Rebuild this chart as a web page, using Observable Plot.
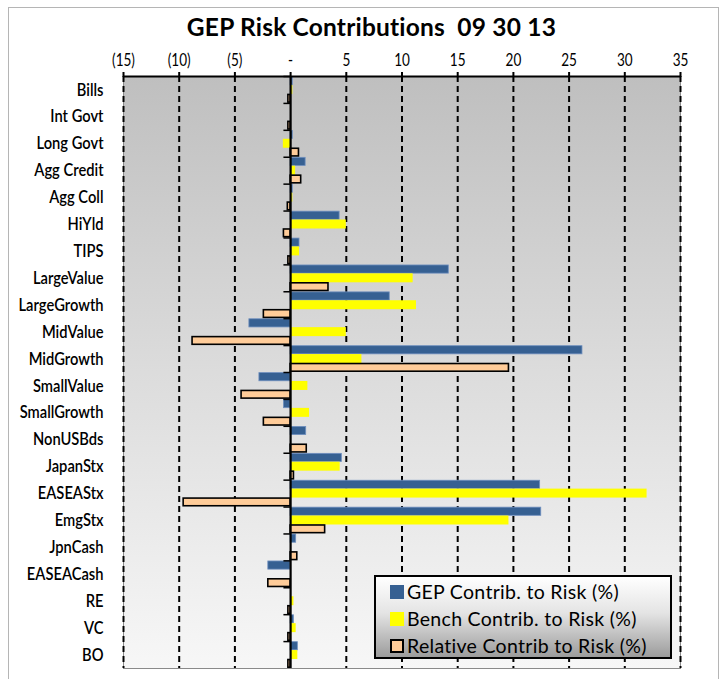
<!DOCTYPE html>
<html>
<head>
<meta charset="utf-8">
<script src="https://cdn.jsdelivr.net/npm/d3@7"></script>
<script src="https://cdn.jsdelivr.net/npm/@observablehq/plot@0.6"></script>
<style>
  html, body { margin: 0; padding: 0; background: #fff; overflow: hidden; }
  #wrap { position: relative; width: 723px; height: 679px; overflow: hidden; background: #fff; }
  #border { position: absolute; left: 8px; top: 7px; width: 711px; height: 700px; border: 1px solid #b5b5b5; box-sizing: border-box; }
  #title { position: absolute; left: 10px; width: 723px; top: 12px; text-align: center; font-family: Lato, "Open Sans", sans-serif; font-weight: 700; font-size: 24.5px; letter-spacing: 0.2px; color: #000; white-space: pre; }
  #chart { position: absolute; left: 0; top: 0; }
  #legend { position: absolute; left: 374px; top: 575px; width: 298px; height: 84px; box-sizing: border-box; border: 2px solid #000;
            background: linear-gradient(to bottom, #ffffff 0%, #e4e4e4 45%, #9c9c9c 100%);
            font-family: Lato, "Open Sans", sans-serif; font-size: 19.5px; letter-spacing: 0.3px; color: #000; padding-top: 1px; }
  .item { height: 27px; display: flex; align-items: center; padding-left: 14px; }
  .sw { width: 14px; height: 14px; margin-right: 3px; box-sizing: border-box; flex: none; }
</style>
</head>
<body>
<div id="wrap">
  <div id="border"></div>
  <div id="chart"></div>
  <div id="title">GEP Risk Contributions  09 30 13</div>
  <div id="legend"></div>
</div>
<script>
const categories = ["Bills","Int Govt","Long Govt","Agg Credit","Agg Coll","HiYld","TIPS","LargeValue","LargeGrowth","MidValue","MidGrowth","SmallValue","SmallGrowth","NonUSBds","JapanStx","EASEAStx","EmgStx","JpnCash","EASEACash","RE","VC","BO"];
const gep      = [0.2, 0, 0.2, 1.35, 0.2, 4.4, 0.8, 14.2, 8.9, -3.7, 26.2, -2.8, -0.6, 1.4, 4.6, 22.4, 22.5, 0.5, -2.0, 0, 0.3, 0.65];
const bench    = [0.2, 0, -0.65, 0.45, 0.2, 5.0, 0.8, 11.0, 11.3, 5.0, 6.4, 1.55, 1.7, 0, 4.45, 32.0, 19.6, 0, 0, 0.3, 0.5, 0.65];
const relative = [-0.2, -0.2, 0.75, 0.95, -0.25, -0.6, -0.2, 3.4, -2.4, -8.8, 19.6, -4.4, -2.4, 1.45, 0.3, -9.6, 3.1, 0.6, -2.0, -0.2, -0.2, -0.2];
const seriesNames = ["GEP Contrib. to Risk (%)", "Bench Contrib. to Risk (%)", "Relative Contrib to Risk (%)"];
const seriesColors = ["#366092", "#ffff00", "#ffcc99"];
const xTicks = [-15, -10, -5, 0, 5, 10, 15, 20, 25, 30, 35];
const xTickLabels = ["(15)", "(10)", "(5)", "-", "5", "10", "15", "20", "25", "30", "35"];

const W = 723, H = 679;
const mt = 76, mb = 11, ml = 123, mr = 43;
const bw = (H - mt - mb) / categories.length;
const third = bw / 3;

const plot = Plot.plot({
  width: W, height: H,
  marginTop: mt, marginBottom: mb, marginLeft: ml, marginRight: mr,
  style: { background: "transparent", fontFamily: "Lato, 'Open Sans', sans-serif", color: "#000" },
  x: { domain: [-15, 35], label: null },
  y: { domain: categories, padding: 0, round: false, label: null },
  marks: [
    Plot.frame({ fill: "#ccc", stroke: "#8a8a8a", strokeWidth: 1, className: "bgframe" }),
    Plot.ruleX(xTicks.filter(d => d !== 0), { stroke: "#000", strokeWidth: 2, strokeDasharray: "6,4" }),
    Plot.barX(categories, { y: d => d, x: (d, i) => gep[i], fill: seriesColors[0], stroke: "#6f8fbf", strokeWidth: 0.8, insetTop: 0.6, insetBottom: 2 * third + 0.2 }),
    Plot.barX(categories, { y: d => d, x: (d, i) => bench[i], fill: seriesColors[1], insetTop: third, insetBottom: third }),
    Plot.barX(categories, { y: d => d, x: (d, i) => relative[i], fill: seriesColors[2], stroke: "#000", strokeWidth: 1.6, insetTop: 2 * third + 0.5, insetBottom: 0.8 }),
    Plot.ruleX([0], { stroke: "#000", strokeWidth: 2.2 }),
    Plot.ruleY(categories, { y: d => d, x1: -0.6, x2: 0, dy: -bw / 2, stroke: "#000", strokeWidth: 1.5 }),
    Plot.ruleY(categories.slice(0, 1), { y: d => d, x1: -15, x2: 35, dy: -bw / 2, stroke: "#000", strokeWidth: 2 }),
    Plot.axisX({ anchor: "top", ticks: xTicks, tickFormat: (d) => xTickLabels[xTicks.indexOf(d)], tickSize: 5, tickPadding: 6, fontSize: 16.5, strokeWidth: 2 }),
    Plot.axisY({ anchor: "left", tickSize: 0, tickPadding: 20, fontSize: 17.5, fontWeight: 600 })
  ]
});

const svg = d3.select(plot);
const defs = svg.insert("defs", ":first-child");
const grad = defs.append("linearGradient").attr("id", "bgGrad").attr("x1", 0).attr("y1", 0).attr("x2", 0).attr("y2", 1);
grad.append("stop").attr("offset", "0%").attr("stop-color", "#bfbfbf");
grad.append("stop").attr("offset", "50%").attr("stop-color", "#dcdcdc");
grad.append("stop").attr("offset", "100%").attr("stop-color", "#f7f7f7");
svg.selectAll("g.bgframe rect, rect.bgframe").attr("fill", "url(#bgGrad)");

document.getElementById("chart").appendChild(plot);

// condense the axis labels horizontally (reference uses a narrow typeface)
function condense(sel, k) {
  sel.each(function() {
    const len = this.getComputedTextLength();
    if (len > 0) {
      this.setAttribute("textLength", (len * k).toFixed(2));
      this.setAttribute("lengthAdjust", "spacingAndGlyphs");
    }
  });
}
condense(svg.selectAll('g[aria-label="y-axis tick label"] text'), 0.84);
condense(svg.selectAll('g[aria-label="x-axis tick label"] text'), 0.82);

const legend = d3.select("#legend");
seriesNames.forEach((name, i) => {
  const item = legend.append("div").attr("class", "item");
  item.append("div").attr("class", "sw")
    .style("background", seriesColors[i])
    .style("border", i === 2 ? "2px solid #000" : "none");
  item.append("span").text(name);
});
</script>
</body>
</html>
